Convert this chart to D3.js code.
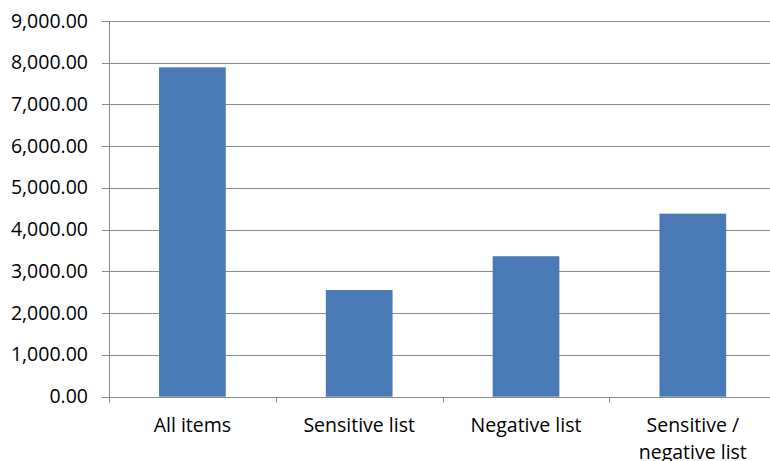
<!DOCTYPE html>
<html>
<head>
<meta charset="utf-8">
<script src="https://cdn.jsdelivr.net/npm/d3@7"></script>
<style>
  html, body { margin: 0; padding: 0; background: #ffffff; overflow: hidden; }
  svg { display: block; }
  text { font-family: "Open Sans", sans-serif; fill: #000; }
</style>
</head>
<body>
<svg id="chart" width="770" height="461"></svg>
<script>
// Categories and their totals
const categories = ["All items", "Sensitive list", "Negative list", "Sensitive /\nnegative list"];
const values = [7890, 2555, 3365, 4385];
const yTicks = [0, 1000, 2000, 3000, 4000, 5000, 6000, 7000, 8000, 9000];

const svg = d3.select("#chart");
const plotLeft = 109, plotRight = 776.2, plotTop = 21, plotBottom = 396.7;

const x = d3.scaleBand()
  .domain(categories)
  .range([plotLeft, plotRight])
  .paddingInner(0.6)
  .paddingOuter(0.3);

const y = d3.scaleLinear().domain([0, 9000]).range([plotBottom, plotTop]);

const gridColor = "#898989";
const fmt = d3.format(",.2f");

// Horizontal gridlines
svg.append("g")
  .selectAll("line")
  .data(yTicks)
  .join("line")
  .attr("x1", plotLeft - 7)
  .attr("x2", plotRight)
  .attr("y1", d => Math.round(y(d)) + 0.5)
  .attr("y2", d => Math.round(y(d)) + 0.5)
  .attr("stroke", gridColor)
  .attr("stroke-width", 1);

// Bars
svg.append("g")
  .selectAll("rect")
  .data(categories)
  .join("rect")
  .attr("x", d => x(d))
  .attr("width", x.bandwidth())
  .attr("y", (d, i) => y(values[i]))
  .attr("height", (d, i) => y(0) - y(values[i]))
  .attr("fill", "#4a7ab5");

// Vertical axis line
svg.append("line")
  .attr("x1", plotLeft + 0.5).attr("x2", plotLeft + 0.5)
  .attr("y1", plotTop).attr("y2", plotBottom + 6)
  .attr("stroke", gridColor);

// Category boundary ticks below the baseline
const step = x.step();
const boundaries = d3.range(categories.length).map(i => plotLeft + i * step);
svg.append("g")
  .selectAll("line")
  .data(boundaries)
  .join("line")
  .attr("x1", d => Math.round(d) + 0.5)
  .attr("x2", d => Math.round(d) + 0.5)
  .attr("y1", plotBottom)
  .attr("y2", plotBottom + 6)
  .attr("stroke", gridColor);

// Y tick labels
svg.append("g")
  .selectAll("text")
  .data(yTicks)
  .join("text")
  .attr("x", 88)
  .attr("y", d => y(d) + 6.5)
  .attr("text-anchor", "end")
  .attr("font-size", "19.5px")
  .text(d => fmt(d));

// Category labels (may wrap onto two lines)
const catLabels = svg.append("g")
  .selectAll("text")
  .data(categories)
  .join("text")
  .attr("x", d => x(d) + x.bandwidth() / 2)
  .attr("y", 432)
  .attr("text-anchor", "middle")
  .attr("font-size", "19.5px");

catLabels.each(function(d) {
  const lines = d.split("\n");
  d3.select(this).selectAll("tspan")
    .data(lines)
    .join("tspan")
    .attr("x", x(d) + x.bandwidth() / 2)
    .attr("dy", (l, i) => i === 0 ? 0 : 26.7)
    .text(l => l);
});
</script>
</body>
</html>
